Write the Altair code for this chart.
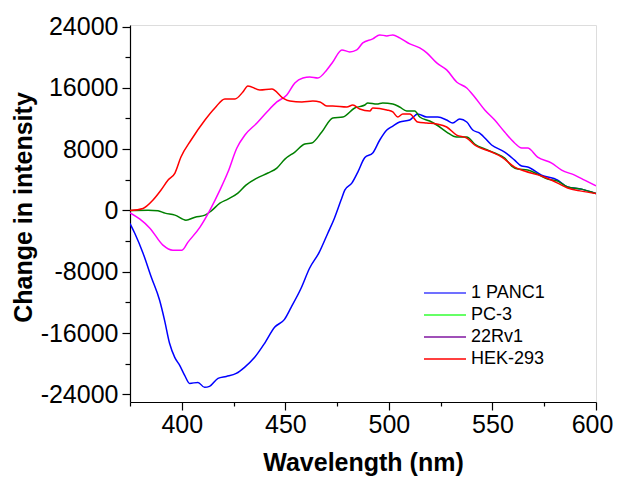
import altair as alt
import pandas as pd

# ---- data ----
series_names = ["1 PANC1", "PC-3", "22Rv1", "HEK-293"]
line_colors = ["#0000ff", "#008000", "#ff00ff", "#ff0000"]
legend_colors = ["#7070ff", "#66ff66", "#a050b8", "#ff4040"]

panc1_nm = [375, 377.3, 381.3, 385.3, 389.3, 391.7, 394.1, 396.6, 399, 401.4, 403.8, 407.8, 411,
            413.4, 417.5, 421.5, 426.3, 430.3, 435.2, 440, 444.8, 449.6, 452.8, 457.6, 461.7,
            466.4, 470.5, 473.7, 476.9, 478.7, 482.1, 485, 488.4, 492.2, 495.6, 499, 501.9,
            505.2, 510.1, 513.9, 518.3, 523.6, 527.9, 530.8, 534.2, 537.6, 540.5, 543.8, 549.6,
            555.9, 560.7, 564.1, 567, 573.7, 581.5, 586.3, 593, 600]
panc1_val = [-1700, -2970, -5580, -8720, -11720, -14340, -17340, -19170, -20220, -21530, -22570,
             -22440, -23090, -22960, -21920, -21660, -21270, -20480, -19170, -17340, -15250,
             -14210, -12640, -10150, -7540, -5450, -2970, -1010, 1350, 2650, 3570, 5010, 6900,
             7490, 9190, 10490, 11010, 11540, 11800, 12590, 12190, 12190, 11800, 11410, 11930,
             11540, 10490, 10100, 8540, 7620, 6570, 5790, 5660, 4610, 3960, 3050, 2780, 2200]

pc3_nm = [375, 383.7, 388.5, 391.9, 396.7, 402, 406.4, 411.2, 414.1, 418.4, 422.3, 427.1, 431,
          436.3, 441.6, 445.9, 449.8, 454.6, 459.4, 462.8, 467.6, 472.9, 477.8, 483.5, 488.4,
          489.8, 494.2, 497, 501.9, 505.2, 508.6, 512.5, 514.9, 519.7, 523.1, 527.9, 532.7,
          537.6, 541.4, 546.3, 551.1, 555.9, 559.3, 562.2, 567, 571.8, 576.6, 581.5, 586.3,
          593, 600]
pc3_val = [0, 40, -50, -350, -610, -1270, -880, -610, -90, 950, 1480, 2260, 3310, 4220, 4880,
           5530, 6700, 7620, 8670, 8800, 10230, 12060, 12190, 13370, 13760, 14030, 13890, 14030,
           13890, 13500, 12980, 12980, 12190, 11670, 11150, 10230, 9580, 9580, 8670, 8010, 7490,
           6840, 5790, 5400, 5270, 4740, 4090, 3830, 3050, 2780, 2200]

rv1_nm = [375, 379.8, 384.6, 390.9, 395.7, 400.1, 403, 408.8, 413.6, 418.4, 422.3, 426.6, 430.5,
          436.3, 441.1, 445.9, 450.7, 454.6, 458.5, 461.8, 465.7, 470, 472.9, 477.3, 481.1,
          484.5, 487.4, 492.2, 495.6, 499, 501.9, 505.2, 510.1, 514.9, 518.3, 523.1, 527.9,
          532.7, 537.6, 541.4, 546.3, 551.1, 555.9, 560.7, 564.1, 567, 571.8, 578.6, 583.4,
          589.7, 594.5, 600]
rv1_val = [-310, -1140, -2310, -4530, -5190, -5190, -4140, -2180, 40, 2650, 5010, 8150, 9840,
           11410, 12850, 14160, 15070, 16640, 17290, 17420, 17290, 18340, 19380, 20950, 20690,
           20950, 21870, 22390, 22910, 22780, 22910, 22520, 21730, 21210, 20560, 19250, 18340,
           16770, 15980, 14800, 13110, 11800, 10230, 8800, 8150, 8150, 6970, 6180, 5270, 4610,
           3960, 3200]

hek_nm = [375, 381.3, 386.1, 390, 393.4, 396.7, 399.6, 404.5, 411.2, 416, 420.8, 425.7, 429.5,
          431.9, 437.7, 443.5, 448.8, 452.2, 458, 463.3, 466.7, 470, 472.9, 479.7, 482.6, 485.9,
          490.8, 492.2, 499, 501.9, 504.3, 506.7, 510.1, 513.9, 518.3, 523.1, 527.9, 532.7,
          537.6, 541.4, 549.6, 554.5, 560.7, 565.5, 573.7, 581.5, 586.3, 593, 600]
hek_val = [0, 260, 1350, 2660, 3960, 4880, 6970, 9190, 11800, 13370, 14550, 14550, 15460, 16250,
           15720, 15850, 14670, 14280, 14160, 14280, 14160, 13630, 13630, 13500, 13760, 13240,
           12980, 13370, 13110, 12850, 12190, 12590, 12590, 11540, 11410, 11280, 10890, 9840,
           9450, 8540, 7620, 6970, 5660, 5140, 4490, 3570, 2920, 2520, 2200]

x_ticks = [375, 400, 425, 450, 475, 500, 525, 550, 575, 600]
y_ticks = [-24000, -20000, -16000, -12000, -8000, -4000, 0, 4000, 8000, 12000, 16000, 20000, 24000]

# ---- build table ----
frames = []
for name, xs_, ys_ in zip(series_names,
                          [panc1_nm, pc3_nm, rv1_nm, hek_nm],
                          [panc1_val, pc3_val, rv1_val, hek_val]):
    frames.append(pd.DataFrame({"nm": xs_, "val": ys_, "series": name, "order": range(len(xs_))}))
df = pd.concat(frames, ignore_index=True)

legend_df = pd.DataFrame({"series": series_names, "color": legend_colors,
                          "row": list(range(len(series_names)))})

FONT = "Liberation Sans"

x_axis = alt.Axis(
    values=x_ticks,
    labelExpr="datum.value % 50 === 0 ? '' + datum.value : ''",
    tickSize={"condition": {"test": "datum.value % 50 === 0", "value": 8}, "value": 4},
    labelOffset={"condition": {"test": "datum.value === 600", "value": -4}, "value": 0},
    labelFontSize=25, labelFont=FONT, labelColor="black", labelPadding=2,
    title="Wavelength (nm)", titleFontSize=25, titleFont=FONT, titleFontWeight="bold",
    titleColor="black", titleBaseline="alphabetic", titleY=68,
    domainColor="black", tickColor="black", domainWidth=1.2, tickWidth=1.2,
    grid=False, labelFlush=False, labelOverlap=False,
)
y_axis = alt.Axis(
    values=y_ticks,
    labelExpr="datum.value % 8000 === 0 ? '' + datum.value : ''",
    tickSize={"condition": {"test": "datum.value % 8000 === 0", "value": 8}, "value": 5},
    labelFontSize=25, labelFont=FONT, labelColor="black", labelPadding=4,
    title="Change in intensity", titleFontSize=25, titleFont=FONT, titleFontWeight="bold",
    titleColor="black", titleBaseline="bottom", titleX=-94, titleY=182, titleAngle=-90,
    domainColor="black", tickColor="black", domainWidth=1.2, tickWidth=1.2,
    grid=False, labelFlush=False, labelOverlap=False,
)

xs = alt.Scale(domain=[375, 600], nice=False, zero=False)
ys = alt.Scale(domain=[-25000, 24200], nice=False, zero=False)

lines = alt.Chart(df).mark_line(strokeWidth=1.5, clip=True, interpolate="monotone").encode(
    x=alt.X("nm:Q", scale=xs, axis=x_axis),
    y=alt.Y("val:Q", scale=ys, axis=y_axis),
    color=alt.Color("series:N", scale=alt.Scale(domain=series_names, range=line_colors), legend=None),
    order="order:Q",
    detail="series:N",
)

# manual legend (its swatch colours differ from the plotted lines in the reference)
leg_y = alt.Y("row:Q", scale=alt.Scale(domain=[0, 3], range=[268, 334]), axis=None)
leg_rules = alt.Chart(legend_df).mark_rule(strokeWidth=2).encode(
    x=alt.value(294), x2=alt.value(336),
    y=leg_y,
    color=alt.Color("color:N", scale=None),
)
leg_text = alt.Chart(legend_df).mark_text(align="left", baseline="middle", fontSize=18,
                                          font=FONT, color="black").encode(
    x=alt.value(341),
    y=leg_y,
    text="series:N",
)

chart = alt.layer(lines, leg_rules, leg_text).resolve_scale(y="independent").properties(
    width=466, height=377,
    autosize=alt.AutoSizeParams(type="none"),
    padding={"left": 122, "top": 17, "right": 17, "bottom": 77},
).configure_view(stroke=None).configure(background="white")

chart.save("out.html", embed_options={"renderer": "svg", "actions": False})
